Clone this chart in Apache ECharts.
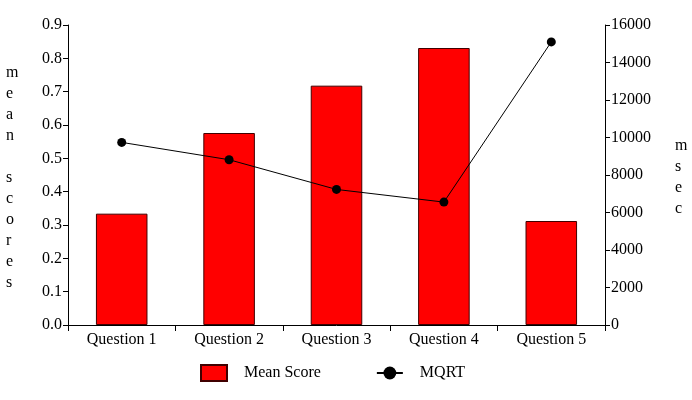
<!DOCTYPE html>
<html>
<head>
<meta charset="utf-8">
<script src="https://cdn.jsdelivr.net/npm/echarts@6/dist/echarts.min.js"></script>
<style>html,body{margin:0;padding:0;background:#fff}#c{width:692px;height:400px}</style>
</head>
<body>
<div id="c"></div>
<script>
var categories = ['Question 1', 'Question 2', 'Question 3', 'Question 4', 'Question 5'];
var meanScores = [0.334, 0.576, 0.718, 0.831, 0.312];
var mqrt = [9740, 8815, 7230, 6555, 15100];
var leftTicks = [0, 0.9, 0.1];
var rightTicks = [0, 16000, 2000];

var F = 'Liberation Serif';
var chart = echarts.init(document.getElementById('c'));
chart.setOption({
  animation: false,
  textStyle: { fontFamily: F, color: '#000' },
  grid: { left: 68, right: 87, top: 25, bottom: 75 },
  legend: {
    bottom: 13, left: 195,
    itemWidth: 26, itemHeight: 16, itemGap: 55,
    textStyle: { fontFamily: F, fontSize: 16, color: '#000', padding: [0, 0, 0, 12] },
    data: [{ name: 'Mean Score', icon: 'rect' }, { name: 'MQRT' }]
  },
  xAxis: {
    type: 'category', data: categories,
    axisLine: { lineStyle: { color: '#000', width: 1 } },
    axisTick: { show: true, length: 6, lineStyle: { color: '#000' } },
    axisLabel: { fontFamily: F, fontSize: 16, color: '#000', margin: 7 }
  },
  yAxis: [{
    type: 'value', min: leftTicks[0], max: leftTicks[1], interval: leftTicks[2],
    axisLine: { show: true, lineStyle: { color: '#000' } },
    axisTick: { show: true, length: 5, lineStyle: { color: '#000' } },
    splitLine: { show: false },
    axisLabel: { fontFamily: F, fontSize: 16, color: '#000', margin: 6,
      formatter: function (v) { return v.toFixed(1); } }
  }, {
    type: 'value', min: rightTicks[0], max: rightTicks[1], interval: rightTicks[2],
    axisLine: { show: true, lineStyle: { color: '#000' } },
    axisTick: { show: true, length: 5, lineStyle: { color: '#000' } },
    splitLine: { show: false },
    axisLabel: { fontFamily: F, fontSize: 16, color: '#000', margin: 6,
      formatter: function (v) { return String(v); } }
  }],
  graphic: [{
    type: 'text', left: 6, top: 62,
    style: { text: 'm\ne\na\nn\n\ns\nc\no\nr\ne\ns', font: '16px "Liberation Serif"', fill: '#000', lineHeight: 21, align: 'center' }
  }, {
    type: 'text', left: 675, top: 135,
    style: { text: 'm\ns\ne\nc', font: '16px "Liberation Serif"', fill: '#000', lineHeight: 21, align: 'center' }
  }],
  series: [{
    name: 'Mean Score', type: 'bar', data: meanScores, yAxisIndex: 0,
    barWidth: '48%',
    itemStyle: { color: '#ff0000', borderColor: '#400000', borderWidth: 1 }
  }, {
    name: 'MQRT', type: 'line', data: mqrt, yAxisIndex: 1,
    symbol: 'circle', symbolSize: 9,
    lineStyle: { color: '#000', width: 1 },
    itemStyle: { color: '#000' }
  }]
});
</script>
</body>
</html>
